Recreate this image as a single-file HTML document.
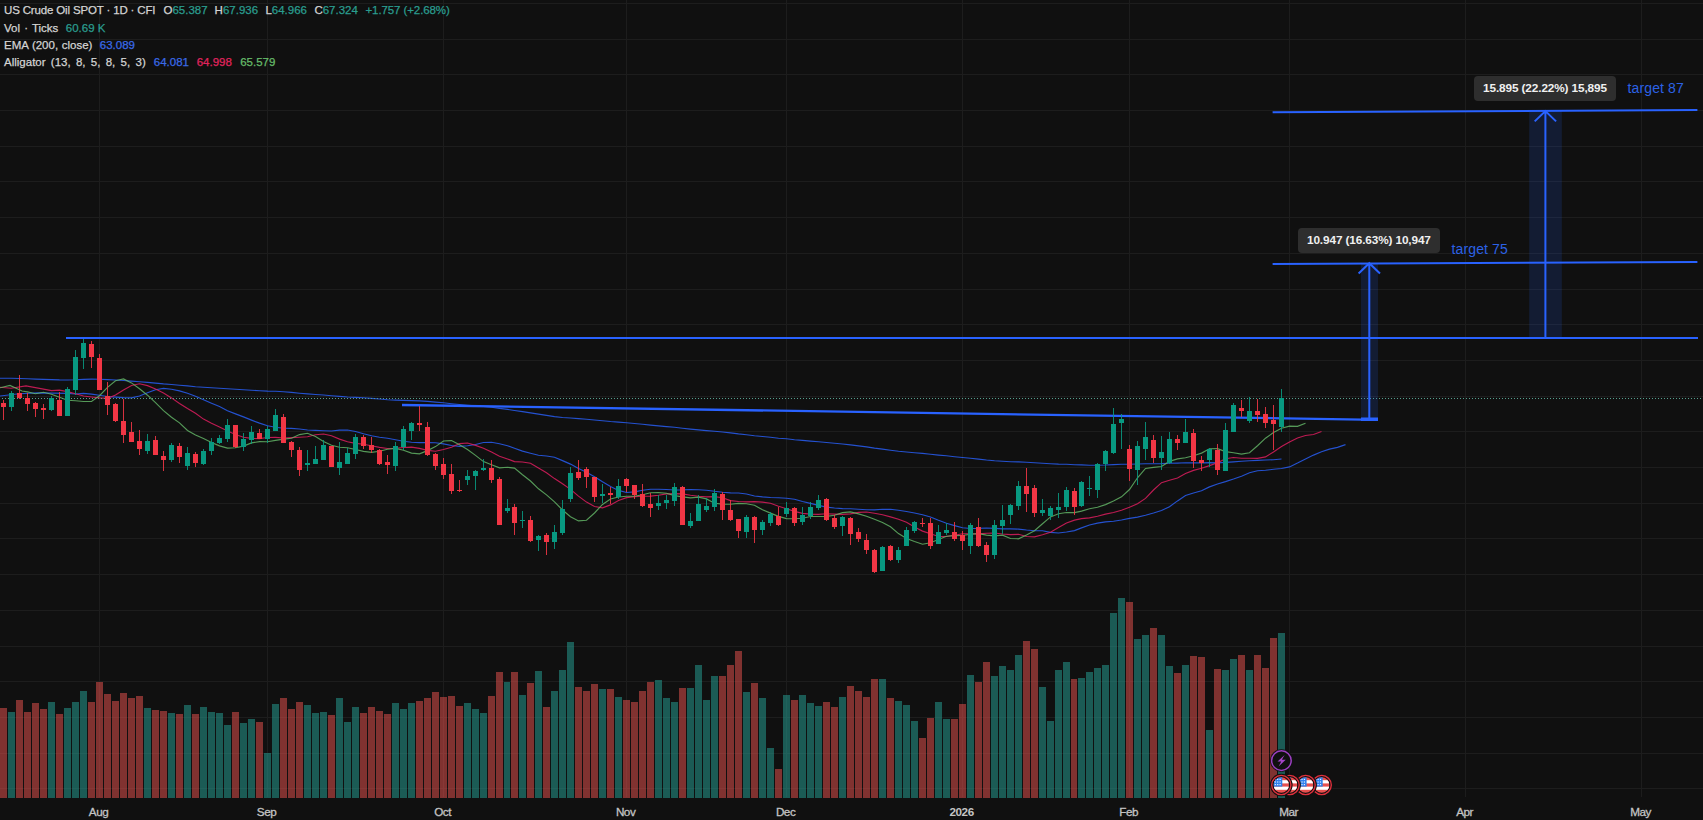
<!DOCTYPE html>
<html><head><meta charset="utf-8"><title>US Crude Oil SPOT</title>
<style>
html,body{margin:0;padding:0;background:#101010;}
body{width:1703px;height:820px;position:relative;overflow:hidden;font-family:"Liberation Sans",sans-serif;}
.lg{position:absolute;left:0;height:16px;line-height:16px;font-size:11.5px;color:#d4d4d4;white-space:nowrap;-webkit-text-stroke:0.25px currentColor}
.t{position:absolute;top:0}
.g{color:#2a9d8f}
b{font-weight:normal}
</style></head><body>
<svg width="1703" height="820" viewBox="0 0 1703 820" style="position:absolute;left:0;top:0">
<rect width="1703" height="820" fill="#101010"/>
<path d="M0 3.5H1703 M0 39.5H1703 M0 74.5H1703 M0 110.5H1703 M0 146.5H1703 M0 181.5H1703 M0 217.5H1703 M0 253.5H1703 M0 289.5H1703 M0 324.5H1703 M0 360.5H1703 M0 396.5H1703 M0 431.5H1703 M0 467.5H1703 M0 503.5H1703 M0 538.5H1703 M0 574.5H1703 M0 610.5H1703 M0 646.5H1703 M0 681.5H1703 M0 717.5H1703 M0 753.5H1703 M0 788.5H1703 M99.5 0V797 M267.5 0V797 M443.5 0V797 M626.5 0V797 M786.5 0V797 M962.5 0V797 M1129.5 0V797 M1289.5 0V797 M1465.5 0V797 M1641.5 0V797" stroke="#1d1d1d" stroke-width="1" fill="none" shape-rendering="crispEdges"/>
<rect x="0" y="708" width="7" height="90" fill="rgba(239,83,80,0.5)" shape-rendering="crispEdges"/>
<rect x="8" y="712" width="7" height="86" fill="rgba(38,166,154,0.5)" shape-rendering="crispEdges"/>
<rect x="16" y="700" width="7" height="98" fill="rgba(239,83,80,0.5)" shape-rendering="crispEdges"/>
<rect x="24" y="712" width="7" height="86" fill="rgba(239,83,80,0.5)" shape-rendering="crispEdges"/>
<rect x="32" y="703" width="7" height="95" fill="rgba(239,83,80,0.5)" shape-rendering="crispEdges"/>
<rect x="40" y="709" width="7" height="89" fill="rgba(239,83,80,0.5)" shape-rendering="crispEdges"/>
<rect x="48" y="702" width="7" height="96" fill="rgba(38,166,154,0.5)" shape-rendering="crispEdges"/>
<rect x="56" y="714" width="7" height="84" fill="rgba(239,83,80,0.5)" shape-rendering="crispEdges"/>
<rect x="64" y="708" width="7" height="90" fill="rgba(38,166,154,0.5)" shape-rendering="crispEdges"/>
<rect x="72" y="702" width="7" height="96" fill="rgba(38,166,154,0.5)" shape-rendering="crispEdges"/>
<rect x="80" y="691" width="7" height="107" fill="rgba(38,166,154,0.5)" shape-rendering="crispEdges"/>
<rect x="88" y="702" width="7" height="96" fill="rgba(239,83,80,0.5)" shape-rendering="crispEdges"/>
<rect x="96" y="682" width="7" height="116" fill="rgba(239,83,80,0.5)" shape-rendering="crispEdges"/>
<rect x="104" y="694" width="7" height="104" fill="rgba(239,83,80,0.5)" shape-rendering="crispEdges"/>
<rect x="112" y="701" width="7" height="97" fill="rgba(239,83,80,0.5)" shape-rendering="crispEdges"/>
<rect x="120" y="693" width="7" height="105" fill="rgba(239,83,80,0.5)" shape-rendering="crispEdges"/>
<rect x="128" y="698" width="7" height="100" fill="rgba(239,83,80,0.5)" shape-rendering="crispEdges"/>
<rect x="136" y="696" width="7" height="102" fill="rgba(239,83,80,0.5)" shape-rendering="crispEdges"/>
<rect x="144" y="708" width="7" height="90" fill="rgba(38,166,154,0.5)" shape-rendering="crispEdges"/>
<rect x="152" y="710" width="7" height="88" fill="rgba(239,83,80,0.5)" shape-rendering="crispEdges"/>
<rect x="160" y="711" width="7" height="87" fill="rgba(239,83,80,0.5)" shape-rendering="crispEdges"/>
<rect x="168" y="713" width="7" height="85" fill="rgba(38,166,154,0.5)" shape-rendering="crispEdges"/>
<rect x="176" y="714" width="7" height="84" fill="rgba(239,83,80,0.5)" shape-rendering="crispEdges"/>
<rect x="184" y="705" width="7" height="93" fill="rgba(38,166,154,0.5)" shape-rendering="crispEdges"/>
<rect x="192" y="714" width="7" height="84" fill="rgba(239,83,80,0.5)" shape-rendering="crispEdges"/>
<rect x="200" y="707" width="7" height="91" fill="rgba(38,166,154,0.5)" shape-rendering="crispEdges"/>
<rect x="208" y="712" width="7" height="86" fill="rgba(38,166,154,0.5)" shape-rendering="crispEdges"/>
<rect x="216" y="713" width="7" height="85" fill="rgba(38,166,154,0.5)" shape-rendering="crispEdges"/>
<rect x="224" y="725" width="7" height="73" fill="rgba(38,166,154,0.5)" shape-rendering="crispEdges"/>
<rect x="232" y="712" width="7" height="86" fill="rgba(239,83,80,0.5)" shape-rendering="crispEdges"/>
<rect x="240" y="723" width="7" height="75" fill="rgba(38,166,154,0.5)" shape-rendering="crispEdges"/>
<rect x="248" y="719" width="7" height="79" fill="rgba(38,166,154,0.5)" shape-rendering="crispEdges"/>
<rect x="256" y="722" width="7" height="76" fill="rgba(239,83,80,0.5)" shape-rendering="crispEdges"/>
<rect x="264" y="753" width="7" height="45" fill="rgba(38,166,154,0.5)" shape-rendering="crispEdges"/>
<rect x="272" y="704" width="7" height="94" fill="rgba(38,166,154,0.5)" shape-rendering="crispEdges"/>
<rect x="280" y="698" width="7" height="100" fill="rgba(239,83,80,0.5)" shape-rendering="crispEdges"/>
<rect x="288" y="709" width="7" height="89" fill="rgba(239,83,80,0.5)" shape-rendering="crispEdges"/>
<rect x="296" y="702" width="7" height="96" fill="rgba(239,83,80,0.5)" shape-rendering="crispEdges"/>
<rect x="304" y="705" width="7" height="93" fill="rgba(38,166,154,0.5)" shape-rendering="crispEdges"/>
<rect x="312" y="713" width="7" height="85" fill="rgba(38,166,154,0.5)" shape-rendering="crispEdges"/>
<rect x="320" y="712" width="7" height="86" fill="rgba(38,166,154,0.5)" shape-rendering="crispEdges"/>
<rect x="328" y="715" width="7" height="83" fill="rgba(239,83,80,0.5)" shape-rendering="crispEdges"/>
<rect x="336" y="698" width="7" height="100" fill="rgba(38,166,154,0.5)" shape-rendering="crispEdges"/>
<rect x="344" y="722" width="7" height="76" fill="rgba(38,166,154,0.5)" shape-rendering="crispEdges"/>
<rect x="352" y="707" width="7" height="91" fill="rgba(38,166,154,0.5)" shape-rendering="crispEdges"/>
<rect x="360" y="713" width="7" height="85" fill="rgba(239,83,80,0.5)" shape-rendering="crispEdges"/>
<rect x="368" y="707" width="7" height="91" fill="rgba(239,83,80,0.5)" shape-rendering="crispEdges"/>
<rect x="376" y="711" width="7" height="87" fill="rgba(239,83,80,0.5)" shape-rendering="crispEdges"/>
<rect x="384" y="714" width="7" height="84" fill="rgba(239,83,80,0.5)" shape-rendering="crispEdges"/>
<rect x="392" y="703" width="7" height="95" fill="rgba(38,166,154,0.5)" shape-rendering="crispEdges"/>
<rect x="400" y="709" width="7" height="89" fill="rgba(38,166,154,0.5)" shape-rendering="crispEdges"/>
<rect x="408" y="703" width="7" height="95" fill="rgba(38,166,154,0.5)" shape-rendering="crispEdges"/>
<rect x="416" y="701" width="7" height="97" fill="rgba(239,83,80,0.5)" shape-rendering="crispEdges"/>
<rect x="424" y="698" width="7" height="100" fill="rgba(239,83,80,0.5)" shape-rendering="crispEdges"/>
<rect x="432" y="692" width="7" height="106" fill="rgba(239,83,80,0.5)" shape-rendering="crispEdges"/>
<rect x="440" y="697" width="7" height="101" fill="rgba(239,83,80,0.5)" shape-rendering="crispEdges"/>
<rect x="448" y="696" width="7" height="102" fill="rgba(239,83,80,0.5)" shape-rendering="crispEdges"/>
<rect x="456" y="706" width="7" height="92" fill="rgba(239,83,80,0.5)" shape-rendering="crispEdges"/>
<rect x="464" y="703" width="7" height="95" fill="rgba(38,166,154,0.5)" shape-rendering="crispEdges"/>
<rect x="472" y="709" width="7" height="89" fill="rgba(38,166,154,0.5)" shape-rendering="crispEdges"/>
<rect x="480" y="713" width="7" height="85" fill="rgba(38,166,154,0.5)" shape-rendering="crispEdges"/>
<rect x="488" y="696" width="7" height="102" fill="rgba(239,83,80,0.5)" shape-rendering="crispEdges"/>
<rect x="496" y="672" width="7" height="126" fill="rgba(239,83,80,0.5)" shape-rendering="crispEdges"/>
<rect x="504" y="682" width="6" height="116" fill="rgba(38,166,154,0.5)" shape-rendering="crispEdges"/>
<rect x="511" y="672" width="7" height="126" fill="rgba(239,83,80,0.5)" shape-rendering="crispEdges"/>
<rect x="519" y="695" width="7" height="103" fill="rgba(38,166,154,0.5)" shape-rendering="crispEdges"/>
<rect x="527" y="683" width="7" height="115" fill="rgba(239,83,80,0.5)" shape-rendering="crispEdges"/>
<rect x="535" y="671" width="7" height="127" fill="rgba(38,166,154,0.5)" shape-rendering="crispEdges"/>
<rect x="543" y="707" width="7" height="91" fill="rgba(239,83,80,0.5)" shape-rendering="crispEdges"/>
<rect x="551" y="691" width="7" height="107" fill="rgba(38,166,154,0.5)" shape-rendering="crispEdges"/>
<rect x="559" y="670" width="7" height="128" fill="rgba(38,166,154,0.5)" shape-rendering="crispEdges"/>
<rect x="567" y="642" width="7" height="156" fill="rgba(38,166,154,0.5)" shape-rendering="crispEdges"/>
<rect x="575" y="687" width="7" height="111" fill="rgba(239,83,80,0.5)" shape-rendering="crispEdges"/>
<rect x="583" y="691" width="7" height="107" fill="rgba(239,83,80,0.5)" shape-rendering="crispEdges"/>
<rect x="591" y="684" width="7" height="114" fill="rgba(239,83,80,0.5)" shape-rendering="crispEdges"/>
<rect x="599" y="689" width="7" height="109" fill="rgba(38,166,154,0.5)" shape-rendering="crispEdges"/>
<rect x="607" y="689" width="7" height="109" fill="rgba(239,83,80,0.5)" shape-rendering="crispEdges"/>
<rect x="615" y="697" width="7" height="101" fill="rgba(38,166,154,0.5)" shape-rendering="crispEdges"/>
<rect x="623" y="700" width="7" height="98" fill="rgba(239,83,80,0.5)" shape-rendering="crispEdges"/>
<rect x="631" y="702" width="7" height="96" fill="rgba(239,83,80,0.5)" shape-rendering="crispEdges"/>
<rect x="639" y="691" width="7" height="107" fill="rgba(239,83,80,0.5)" shape-rendering="crispEdges"/>
<rect x="647" y="682" width="7" height="116" fill="rgba(239,83,80,0.5)" shape-rendering="crispEdges"/>
<rect x="655" y="680" width="7" height="118" fill="rgba(38,166,154,0.5)" shape-rendering="crispEdges"/>
<rect x="663" y="698" width="7" height="100" fill="rgba(38,166,154,0.5)" shape-rendering="crispEdges"/>
<rect x="671" y="702" width="7" height="96" fill="rgba(38,166,154,0.5)" shape-rendering="crispEdges"/>
<rect x="679" y="688" width="7" height="110" fill="rgba(239,83,80,0.5)" shape-rendering="crispEdges"/>
<rect x="687" y="688" width="7" height="110" fill="rgba(38,166,154,0.5)" shape-rendering="crispEdges"/>
<rect x="695" y="665" width="7" height="133" fill="rgba(38,166,154,0.5)" shape-rendering="crispEdges"/>
<rect x="703" y="700" width="7" height="98" fill="rgba(38,166,154,0.5)" shape-rendering="crispEdges"/>
<rect x="711" y="676" width="7" height="122" fill="rgba(38,166,154,0.5)" shape-rendering="crispEdges"/>
<rect x="719" y="676" width="7" height="122" fill="rgba(239,83,80,0.5)" shape-rendering="crispEdges"/>
<rect x="727" y="665" width="7" height="133" fill="rgba(239,83,80,0.5)" shape-rendering="crispEdges"/>
<rect x="735" y="651" width="7" height="147" fill="rgba(239,83,80,0.5)" shape-rendering="crispEdges"/>
<rect x="743" y="692" width="7" height="106" fill="rgba(38,166,154,0.5)" shape-rendering="crispEdges"/>
<rect x="751" y="683" width="7" height="115" fill="rgba(239,83,80,0.5)" shape-rendering="crispEdges"/>
<rect x="759" y="698" width="7" height="100" fill="rgba(38,166,154,0.5)" shape-rendering="crispEdges"/>
<rect x="767" y="748" width="7" height="50" fill="rgba(38,166,154,0.5)" shape-rendering="crispEdges"/>
<rect x="775" y="769" width="7" height="29" fill="rgba(239,83,80,0.5)" shape-rendering="crispEdges"/>
<rect x="783" y="695" width="7" height="103" fill="rgba(38,166,154,0.5)" shape-rendering="crispEdges"/>
<rect x="791" y="700" width="7" height="98" fill="rgba(239,83,80,0.5)" shape-rendering="crispEdges"/>
<rect x="799" y="695" width="7" height="103" fill="rgba(38,166,154,0.5)" shape-rendering="crispEdges"/>
<rect x="807" y="703" width="7" height="95" fill="rgba(38,166,154,0.5)" shape-rendering="crispEdges"/>
<rect x="815" y="706" width="7" height="92" fill="rgba(38,166,154,0.5)" shape-rendering="crispEdges"/>
<rect x="823" y="702" width="7" height="96" fill="rgba(239,83,80,0.5)" shape-rendering="crispEdges"/>
<rect x="831" y="707" width="7" height="91" fill="rgba(239,83,80,0.5)" shape-rendering="crispEdges"/>
<rect x="839" y="697" width="7" height="101" fill="rgba(38,166,154,0.5)" shape-rendering="crispEdges"/>
<rect x="847" y="686" width="7" height="112" fill="rgba(239,83,80,0.5)" shape-rendering="crispEdges"/>
<rect x="855" y="691" width="7" height="107" fill="rgba(239,83,80,0.5)" shape-rendering="crispEdges"/>
<rect x="863" y="697" width="7" height="101" fill="rgba(239,83,80,0.5)" shape-rendering="crispEdges"/>
<rect x="871" y="679" width="7" height="119" fill="rgba(239,83,80,0.5)" shape-rendering="crispEdges"/>
<rect x="879" y="679" width="7" height="119" fill="rgba(38,166,154,0.5)" shape-rendering="crispEdges"/>
<rect x="887" y="698" width="7" height="100" fill="rgba(239,83,80,0.5)" shape-rendering="crispEdges"/>
<rect x="895" y="701" width="7" height="97" fill="rgba(38,166,154,0.5)" shape-rendering="crispEdges"/>
<rect x="903" y="705" width="7" height="93" fill="rgba(38,166,154,0.5)" shape-rendering="crispEdges"/>
<rect x="911" y="721" width="7" height="77" fill="rgba(38,166,154,0.5)" shape-rendering="crispEdges"/>
<rect x="919" y="738" width="7" height="60" fill="rgba(239,83,80,0.5)" shape-rendering="crispEdges"/>
<rect x="927" y="718" width="7" height="80" fill="rgba(239,83,80,0.5)" shape-rendering="crispEdges"/>
<rect x="935" y="702" width="7" height="96" fill="rgba(38,166,154,0.5)" shape-rendering="crispEdges"/>
<rect x="943" y="719" width="7" height="79" fill="rgba(38,166,154,0.5)" shape-rendering="crispEdges"/>
<rect x="951" y="719" width="7" height="79" fill="rgba(239,83,80,0.5)" shape-rendering="crispEdges"/>
<rect x="959" y="704" width="7" height="94" fill="rgba(239,83,80,0.5)" shape-rendering="crispEdges"/>
<rect x="967" y="675" width="7" height="123" fill="rgba(38,166,154,0.5)" shape-rendering="crispEdges"/>
<rect x="975" y="682" width="7" height="116" fill="rgba(239,83,80,0.5)" shape-rendering="crispEdges"/>
<rect x="983" y="662" width="7" height="136" fill="rgba(239,83,80,0.5)" shape-rendering="crispEdges"/>
<rect x="991" y="676" width="7" height="122" fill="rgba(38,166,154,0.5)" shape-rendering="crispEdges"/>
<rect x="999" y="666" width="7" height="132" fill="rgba(38,166,154,0.5)" shape-rendering="crispEdges"/>
<rect x="1007" y="670" width="7" height="128" fill="rgba(38,166,154,0.5)" shape-rendering="crispEdges"/>
<rect x="1015" y="655" width="7" height="143" fill="rgba(38,166,154,0.5)" shape-rendering="crispEdges"/>
<rect x="1023" y="641" width="7" height="157" fill="rgba(239,83,80,0.5)" shape-rendering="crispEdges"/>
<rect x="1031" y="649" width="7" height="149" fill="rgba(239,83,80,0.5)" shape-rendering="crispEdges"/>
<rect x="1039" y="687" width="7" height="111" fill="rgba(38,166,154,0.5)" shape-rendering="crispEdges"/>
<rect x="1047" y="721" width="7" height="77" fill="rgba(38,166,154,0.5)" shape-rendering="crispEdges"/>
<rect x="1055" y="670" width="7" height="128" fill="rgba(38,166,154,0.5)" shape-rendering="crispEdges"/>
<rect x="1063" y="662" width="7" height="136" fill="rgba(38,166,154,0.5)" shape-rendering="crispEdges"/>
<rect x="1071" y="679" width="6" height="119" fill="rgba(239,83,80,0.5)" shape-rendering="crispEdges"/>
<rect x="1078" y="678" width="7" height="120" fill="rgba(38,166,154,0.5)" shape-rendering="crispEdges"/>
<rect x="1086" y="672" width="7" height="126" fill="rgba(38,166,154,0.5)" shape-rendering="crispEdges"/>
<rect x="1094" y="668" width="7" height="130" fill="rgba(38,166,154,0.5)" shape-rendering="crispEdges"/>
<rect x="1102" y="665" width="7" height="133" fill="rgba(38,166,154,0.5)" shape-rendering="crispEdges"/>
<rect x="1110" y="613" width="7" height="185" fill="rgba(38,166,154,0.5)" shape-rendering="crispEdges"/>
<rect x="1118" y="598" width="7" height="200" fill="rgba(38,166,154,0.5)" shape-rendering="crispEdges"/>
<rect x="1126" y="602" width="7" height="196" fill="rgba(239,83,80,0.5)" shape-rendering="crispEdges"/>
<rect x="1134" y="639" width="7" height="159" fill="rgba(38,166,154,0.5)" shape-rendering="crispEdges"/>
<rect x="1142" y="635" width="7" height="163" fill="rgba(38,166,154,0.5)" shape-rendering="crispEdges"/>
<rect x="1150" y="628" width="7" height="170" fill="rgba(239,83,80,0.5)" shape-rendering="crispEdges"/>
<rect x="1158" y="635" width="7" height="163" fill="rgba(38,166,154,0.5)" shape-rendering="crispEdges"/>
<rect x="1166" y="666" width="7" height="132" fill="rgba(38,166,154,0.5)" shape-rendering="crispEdges"/>
<rect x="1174" y="673" width="7" height="125" fill="rgba(239,83,80,0.5)" shape-rendering="crispEdges"/>
<rect x="1182" y="665" width="7" height="133" fill="rgba(38,166,154,0.5)" shape-rendering="crispEdges"/>
<rect x="1190" y="656" width="7" height="142" fill="rgba(239,83,80,0.5)" shape-rendering="crispEdges"/>
<rect x="1198" y="657" width="7" height="141" fill="rgba(239,83,80,0.5)" shape-rendering="crispEdges"/>
<rect x="1206" y="730" width="7" height="68" fill="rgba(38,166,154,0.5)" shape-rendering="crispEdges"/>
<rect x="1214" y="669" width="7" height="129" fill="rgba(239,83,80,0.5)" shape-rendering="crispEdges"/>
<rect x="1222" y="670" width="7" height="128" fill="rgba(38,166,154,0.5)" shape-rendering="crispEdges"/>
<rect x="1230" y="659" width="7" height="139" fill="rgba(38,166,154,0.5)" shape-rendering="crispEdges"/>
<rect x="1238" y="655" width="7" height="143" fill="rgba(239,83,80,0.5)" shape-rendering="crispEdges"/>
<rect x="1246" y="670" width="7" height="128" fill="rgba(38,166,154,0.5)" shape-rendering="crispEdges"/>
<rect x="1254" y="655" width="7" height="143" fill="rgba(239,83,80,0.5)" shape-rendering="crispEdges"/>
<rect x="1262" y="668" width="7" height="130" fill="rgba(239,83,80,0.5)" shape-rendering="crispEdges"/>
<rect x="1270" y="638" width="7" height="160" fill="rgba(239,83,80,0.5)" shape-rendering="crispEdges"/>
<rect x="1278" y="633" width="7" height="165" fill="rgba(38,166,154,0.5)" shape-rendering="crispEdges"/>
<polyline points="0.0,378.2 3.5,378.2 11.5,378.3 19.5,378.5 27.5,378.8 35.5,379.1 43.5,379.4 51.5,379.6 59.5,379.9 67.5,380.0 75.5,379.8 83.5,379.4 91.5,379.2 99.5,379.3 107.5,379.6 115.5,380.0 123.5,380.5 131.5,381.1 139.5,381.8 147.5,382.4 155.5,383.1 163.5,383.9 171.5,384.5 179.5,385.2 187.5,385.9 195.5,386.7 203.5,387.3 211.5,387.8 219.5,388.3 227.5,388.7 235.5,389.3 243.5,389.8 251.5,390.2 259.5,390.7 267.5,391.1 275.5,391.3 283.5,391.8 291.5,392.4 299.5,393.2 307.5,393.9 315.5,394.5 323.5,395.0 331.5,395.7 339.5,396.4 347.5,397.0 355.5,397.4 363.5,397.8 371.5,398.4 379.5,399.0 387.5,399.7 395.5,400.1 403.5,400.4 411.5,400.6 419.5,400.9 427.5,401.4 435.5,402.1 443.5,402.8 451.5,403.7 459.5,404.5 467.5,405.2 475.5,405.9 483.5,406.5 491.5,407.2 499.5,408.4 507.5,409.4 514.5,410.5 522.5,411.6 530.5,412.9 538.5,414.1 546.5,415.4 554.5,416.6 562.5,417.5 570.5,418.0 578.5,418.6 586.5,419.2 594.5,420.0 602.5,420.7 610.5,421.5 618.5,422.1 626.5,422.7 634.5,423.5 642.5,424.3 650.5,425.1 658.5,425.9 666.5,426.6 674.5,427.2 682.5,428.2 690.5,429.1 698.5,429.9 706.5,430.6 714.5,431.3 722.5,432.0 730.5,432.9 738.5,433.9 746.5,434.7 754.5,435.7 762.5,436.5 770.5,437.3 778.5,438.2 786.5,438.8 794.5,439.7 802.5,440.4 810.5,441.1 818.5,441.7 826.5,442.5 834.5,443.3 842.5,444.0 850.5,444.9 858.5,445.9 866.5,446.9 874.5,448.1 882.5,449.1 890.5,450.2 898.5,451.2 906.5,452.0 914.5,452.7 922.5,453.4 930.5,454.3 938.5,455.1 946.5,455.8 954.5,456.7 962.5,457.5 970.5,458.2 978.5,459.1 986.5,460.0 994.5,460.7 1002.5,461.2 1010.5,461.7 1018.5,461.9 1026.5,462.2 1034.5,462.7 1042.5,463.2 1050.5,463.7 1058.5,464.1 1066.5,464.3 1074.5,464.8 1081.5,464.9 1089.5,465.2 1097.5,465.2 1105.5,465.0 1113.5,464.6 1121.5,464.2 1129.5,464.2 1137.5,464.0 1145.5,463.8 1153.5,463.7 1161.5,463.6 1169.5,463.3 1177.5,463.1 1185.5,462.8 1193.5,462.8 1201.5,462.8 1209.5,462.7 1217.5,462.8 1225.5,462.4 1233.5,461.9 1241.5,461.3 1249.5,460.8 1257.5,460.4 1265.5,460.0 1273.5,459.7 1281.5,459.0" fill="none" stroke="#2962ff" stroke-width="1.15" opacity="0.8"/>
<polyline points="0.0,396.0 19.0,393.8 37.6,392.9 67.5,393.4 75.5,394.0 83.5,393.4 91.5,394.1 99.5,395.3 107.5,396.5 115.5,397.1 123.5,397.6 131.5,397.9 139.5,396.0 147.5,392.7 155.5,389.8 163.5,388.4 171.5,389.2 179.5,390.9 187.5,393.3 195.5,396.2 203.5,399.8 211.5,403.2 219.5,406.5 227.5,410.7 235.5,413.9 243.5,416.9 251.5,420.1 259.5,423.1 267.5,425.7 275.5,427.3 283.5,428.2 291.5,428.4 299.5,429.0 307.5,430.0 315.5,430.4 323.5,430.7 331.5,431.0 339.5,430.1 347.5,430.0 355.5,431.5 363.5,433.8 371.5,435.8 379.5,437.3 387.5,438.3 395.5,439.7 403.5,441.2 411.5,442.3 419.5,442.6 427.5,442.6 435.5,442.8 443.5,443.9 451.5,445.5 459.5,446.3 467.5,445.7 475.5,444.5 483.5,442.5 491.5,442.3 499.5,443.7 507.5,445.7 514.5,448.2 522.5,451.1 530.5,453.2 538.5,455.2 546.5,456.0 554.5,457.2 562.5,460.6 570.5,464.1 578.5,468.4 586.5,472.3 594.5,476.7 602.5,481.8 610.5,486.6 618.5,490.4 626.5,492.5 634.5,491.9 642.5,490.2 650.5,489.2 658.5,489.2 666.5,489.5 674.5,490.0 682.5,489.9 690.5,489.5 698.5,489.7 706.5,490.2 714.5,491.3 722.5,492.2 730.5,492.9 738.5,493.0 746.5,494.0 754.5,496.0 762.5,496.9 770.5,497.5 778.5,497.7 786.5,498.3 794.5,499.3 802.5,501.5 810.5,503.4 818.5,505.4 826.5,507.1 834.5,508.0 842.5,508.6 850.5,508.7 858.5,509.3 866.5,509.8 874.5,509.9 882.5,509.3 890.5,509.3 898.5,510.3 906.5,511.5 914.5,513.0 922.5,514.7 930.5,517.0 938.5,520.3 946.5,523.3 954.5,525.6 962.5,527.8 970.5,528.5 978.5,528.4 986.5,528.0 994.5,528.4 1002.5,528.9 1010.5,528.9 1018.5,529.1 1026.5,530.0 1034.5,530.7 1042.5,530.8 1050.5,532.4 1058.5,533.0 1066.5,532.0 1074.5,530.6 1081.5,527.9 1089.5,525.0 1097.5,523.1 1105.5,521.9 1113.5,521.2 1121.5,520.0 1129.5,518.4 1137.5,517.1 1145.5,515.3 1153.5,513.0 1161.5,510.5 1169.5,506.7 1177.5,500.9 1185.5,495.5 1193.5,493.0 1201.5,490.7 1209.5,486.9 1217.5,484.0 1225.5,481.6 1233.5,479.0 1241.5,476.2 1249.5,472.7 1257.5,470.8 1265.5,470.3 1273.5,469.3 1281.5,468.5 1289.5,466.9 1297.5,463.1 1305.5,458.9 1313.5,455.1 1321.5,451.7 1329.5,449.1 1337.5,447.4 1345.5,444.6" fill="none" stroke="#2962ff" stroke-width="1.15" opacity="0.8"/>
<polyline points="0.0,387.2 11.0,388.2 26.0,385.9 43.5,389.1 51.5,390.6 59.5,390.1 67.5,391.6 75.5,393.8 83.5,396.0 91.5,397.0 99.5,397.9 107.5,398.3 115.5,395.1 123.5,389.9 131.5,385.5 139.5,383.8 147.5,385.6 155.5,389.0 163.5,393.0 171.5,397.9 179.5,403.4 187.5,408.5 195.5,413.2 203.5,419.1 211.5,423.3 219.5,427.0 227.5,430.9 235.5,434.5 243.5,437.3 251.5,438.4 259.5,438.6 267.5,437.5 275.5,437.4 283.5,438.0 291.5,437.6 299.5,437.2 307.5,436.8 315.5,434.7 323.5,434.0 331.5,435.8 339.5,439.1 347.5,441.7 355.5,443.4 363.5,444.2 371.5,445.8 379.5,447.4 387.5,448.5 395.5,448.2 403.5,447.5 411.5,447.1 419.5,448.4 427.5,450.4 435.5,451.2 443.5,449.5 451.5,447.2 459.5,443.6 467.5,443.0 475.5,445.4 483.5,448.3 491.5,452.1 499.5,456.3 507.5,459.0 514.5,461.6 522.5,462.0 530.5,463.2 538.5,468.0 546.5,472.7 554.5,478.6 562.5,483.8 570.5,489.4 578.5,496.1 586.5,502.1 594.5,506.5 602.5,507.8 610.5,504.9 618.5,500.5 626.5,497.6 634.5,496.6 642.5,496.2 650.5,496.1 658.5,495.2 666.5,493.9 674.5,493.7 682.5,493.9 690.5,495.3 698.5,496.2 706.5,496.9 714.5,496.6 722.5,497.7 730.5,500.6 738.5,501.5 746.5,501.9 754.5,501.6 762.5,502.1 770.5,503.2 778.5,506.3 786.5,508.8 794.5,511.4 802.5,513.4 810.5,514.1 818.5,514.4 826.5,513.8 834.5,514.1 842.5,514.3 850.5,513.9 858.5,512.4 866.5,512.0 874.5,513.2 882.5,514.8 890.5,516.9 898.5,519.2 906.5,522.3 914.5,527.1 922.5,531.1 930.5,533.8 938.5,536.5 946.5,536.5 954.5,535.3 962.5,533.7 970.5,533.7 978.5,533.8 986.5,533.3 994.5,533.0 1002.5,534.0 1010.5,534.6 1018.5,534.3 1026.5,536.5 1034.5,536.9 1042.5,534.8 1050.5,532.2 1058.5,527.6 1066.5,522.9 1074.5,520.1 1081.5,518.6 1089.5,517.9 1097.5,516.3 1105.5,514.1 1113.5,512.5 1121.5,510.2 1129.5,507.2 1137.5,503.8 1145.5,498.4 1153.5,490.0 1161.5,482.7 1169.5,480.2 1177.5,478.0 1185.5,473.4 1193.5,470.4 1201.5,468.2 1209.5,465.6 1217.5,462.7 1225.5,458.8 1233.5,457.5 1241.5,458.2 1249.5,458.2 1257.5,458.3 1265.5,456.9 1273.5,452.0 1281.5,446.5 1289.5,442.0 1297.5,438.0 1305.5,435.5 1313.5,434.5 1321.5,431.5" fill="none" stroke="#e91e63" stroke-width="1.15" opacity="0.8"/>
<polyline points="0.0,387.8 10.0,385.4 22.0,391.0 27.5,391.9 35.5,393.7 43.5,392.3 51.5,394.2 59.5,397.3 67.5,400.2 75.5,400.8 83.5,401.5 91.5,401.5 99.5,395.7 107.5,387.3 115.5,380.7 123.5,378.9 131.5,382.9 139.5,388.8 147.5,395.2 155.5,402.6 163.5,410.6 171.5,417.3 179.5,422.9 187.5,430.5 195.5,434.9 203.5,438.5 211.5,442.5 219.5,445.9 227.5,448.1 235.5,447.8 243.5,446.1 251.5,442.9 259.5,441.6 267.5,441.7 275.5,440.4 283.5,439.1 291.5,438.2 299.5,434.6 307.5,433.3 315.5,436.5 323.5,441.5 331.5,445.3 339.5,447.3 347.5,447.8 355.5,449.5 363.5,451.4 371.5,452.3 379.5,451.2 387.5,449.3 395.5,448.4 403.5,450.2 411.5,453.1 419.5,453.8 427.5,450.6 435.5,446.6 443.5,441.0 451.5,440.6 459.5,444.8 467.5,449.6 475.5,455.4 483.5,461.6 491.5,464.8 499.5,467.8 507.5,467.3 514.5,468.1 522.5,474.7 530.5,481.0 538.5,488.8 546.5,494.9 554.5,501.8 562.5,510.0 570.5,516.8 578.5,520.9 586.5,520.2 594.5,513.0 602.5,504.4 610.5,499.0 618.5,497.0 626.5,496.3 634.5,496.2 642.5,494.7 650.5,492.8 658.5,492.6 666.5,493.2 674.5,495.6 682.5,496.9 690.5,497.9 698.5,497.2 706.5,498.9 714.5,503.2 722.5,504.1 730.5,504.2 738.5,503.4 746.5,503.8 754.5,505.2 762.5,509.8 770.5,513.1 778.5,516.4 786.5,518.6 794.5,518.7 802.5,518.2 810.5,516.5 818.5,516.5 826.5,516.4 834.5,515.2 842.5,512.6 850.5,511.9 858.5,513.9 866.5,516.3 874.5,519.3 882.5,522.5 890.5,526.8 898.5,533.6 906.5,538.6 914.5,541.5 922.5,544.2 930.5,542.7 938.5,539.5 946.5,536.2 954.5,535.6 962.5,535.5 970.5,534.2 978.5,533.7 986.5,535.1 994.5,535.8 1002.5,535.1 1010.5,538.5 1018.5,538.8 1026.5,534.9 1034.5,530.7 1042.5,523.7 1050.5,516.9 1058.5,513.7 1066.5,512.5 1074.5,512.6 1081.5,511.1 1089.5,508.7 1097.5,507.3 1105.5,504.6 1113.5,500.9 1121.5,496.8 1129.5,489.5 1137.5,477.8 1145.5,468.5 1153.5,467.4 1161.5,466.5 1169.5,461.4 1177.5,458.9 1185.5,457.7 1193.5,455.7 1201.5,453.1 1209.5,448.7 1217.5,448.6 1225.5,451.6 1233.5,452.8 1241.5,454.1 1249.5,452.7 1257.5,445.7 1265.5,438.2 1273.5,432.6 1281.5,428.2 1289.5,426.1 1297.5,426.4 1305.5,423.2" fill="none" stroke="#66bb6a" stroke-width="1.15" opacity="0.8"/>
<line x1="2" x2="1703" y1="398.5" y2="398.5" stroke="#56a08e" stroke-width="1" stroke-dasharray="1 2" shape-rendering="crispEdges"/>
<line x1="402" y1="405.0" x2="1377.8" y2="419.8" stroke="#2962ff" stroke-width="2.3"/>
<rect x="3" y="400" width="1" height="20" fill="#f23645" fill-opacity="0.88" shape-rendering="crispEdges"/>
<rect x="1" y="403" width="5" height="4" fill="#f23645" shape-rendering="crispEdges"/>
<rect x="11" y="391" width="1" height="20" fill="#089981" fill-opacity="0.88" shape-rendering="crispEdges"/>
<rect x="9" y="393" width="5" height="14" fill="#089981" shape-rendering="crispEdges"/>
<rect x="19" y="375" width="1" height="24" fill="#f23645" fill-opacity="0.88" shape-rendering="crispEdges"/>
<rect x="17" y="393" width="5" height="5" fill="#f23645" shape-rendering="crispEdges"/>
<rect x="27" y="393" width="1" height="18" fill="#f23645" fill-opacity="0.88" shape-rendering="crispEdges"/>
<rect x="25" y="398" width="5" height="6" fill="#f23645" shape-rendering="crispEdges"/>
<rect x="35" y="402" width="1" height="15" fill="#f23645" fill-opacity="0.88" shape-rendering="crispEdges"/>
<rect x="33" y="403" width="5" height="6" fill="#f23645" shape-rendering="crispEdges"/>
<rect x="43" y="404" width="1" height="15" fill="#f23645" fill-opacity="0.88" shape-rendering="crispEdges"/>
<rect x="41" y="408" width="5" height="2" fill="#f23645" shape-rendering="crispEdges"/>
<rect x="51" y="396" width="1" height="15" fill="#089981" fill-opacity="0.88" shape-rendering="crispEdges"/>
<rect x="49" y="398" width="5" height="12" fill="#089981" shape-rendering="crispEdges"/>
<rect x="59" y="392" width="1" height="24" fill="#f23645" fill-opacity="0.88" shape-rendering="crispEdges"/>
<rect x="57" y="400" width="5" height="16" fill="#f23645" shape-rendering="crispEdges"/>
<rect x="67" y="387" width="1" height="29" fill="#089981" fill-opacity="0.88" shape-rendering="crispEdges"/>
<rect x="65" y="389" width="5" height="27" fill="#089981" shape-rendering="crispEdges"/>
<rect x="75" y="350" width="1" height="45" fill="#089981" fill-opacity="0.88" shape-rendering="crispEdges"/>
<rect x="73" y="357" width="5" height="33" fill="#089981" shape-rendering="crispEdges"/>
<rect x="83" y="338" width="1" height="31" fill="#089981" fill-opacity="0.88" shape-rendering="crispEdges"/>
<rect x="81" y="343" width="5" height="15" fill="#089981" shape-rendering="crispEdges"/>
<rect x="91" y="341" width="1" height="27" fill="#f23645" fill-opacity="0.88" shape-rendering="crispEdges"/>
<rect x="89" y="344" width="5" height="13" fill="#f23645" shape-rendering="crispEdges"/>
<rect x="99" y="354" width="1" height="36" fill="#f23645" fill-opacity="0.88" shape-rendering="crispEdges"/>
<rect x="97" y="358" width="5" height="32" fill="#f23645" shape-rendering="crispEdges"/>
<rect x="107" y="382" width="1" height="33" fill="#f23645" fill-opacity="0.88" shape-rendering="crispEdges"/>
<rect x="105" y="396" width="5" height="9" fill="#f23645" shape-rendering="crispEdges"/>
<rect x="115" y="403" width="1" height="19" fill="#f23645" fill-opacity="0.88" shape-rendering="crispEdges"/>
<rect x="113" y="404" width="5" height="17" fill="#f23645" shape-rendering="crispEdges"/>
<rect x="123" y="399" width="1" height="44" fill="#f23645" fill-opacity="0.88" shape-rendering="crispEdges"/>
<rect x="121" y="421" width="5" height="14" fill="#f23645" shape-rendering="crispEdges"/>
<rect x="131" y="422" width="1" height="20" fill="#f23645" fill-opacity="0.88" shape-rendering="crispEdges"/>
<rect x="129" y="432" width="5" height="10" fill="#f23645" shape-rendering="crispEdges"/>
<rect x="139" y="430" width="1" height="25" fill="#f23645" fill-opacity="0.88" shape-rendering="crispEdges"/>
<rect x="137" y="441" width="5" height="8" fill="#f23645" shape-rendering="crispEdges"/>
<rect x="147" y="434" width="1" height="20" fill="#089981" fill-opacity="0.88" shape-rendering="crispEdges"/>
<rect x="145" y="441" width="5" height="10" fill="#089981" shape-rendering="crispEdges"/>
<rect x="155" y="436" width="1" height="19" fill="#f23645" fill-opacity="0.88" shape-rendering="crispEdges"/>
<rect x="153" y="440" width="5" height="15" fill="#f23645" shape-rendering="crispEdges"/>
<rect x="163" y="451" width="1" height="20" fill="#f23645" fill-opacity="0.88" shape-rendering="crispEdges"/>
<rect x="161" y="456" width="5" height="4" fill="#f23645" shape-rendering="crispEdges"/>
<rect x="171" y="443" width="1" height="19" fill="#089981" fill-opacity="0.88" shape-rendering="crispEdges"/>
<rect x="169" y="445" width="5" height="15" fill="#089981" shape-rendering="crispEdges"/>
<rect x="179" y="443" width="1" height="20" fill="#f23645" fill-opacity="0.88" shape-rendering="crispEdges"/>
<rect x="177" y="446" width="5" height="11" fill="#f23645" shape-rendering="crispEdges"/>
<rect x="187" y="447" width="1" height="23" fill="#089981" fill-opacity="0.88" shape-rendering="crispEdges"/>
<rect x="185" y="453" width="5" height="13" fill="#089981" shape-rendering="crispEdges"/>
<rect x="195" y="452" width="1" height="15" fill="#f23645" fill-opacity="0.88" shape-rendering="crispEdges"/>
<rect x="193" y="454" width="5" height="9" fill="#f23645" shape-rendering="crispEdges"/>
<rect x="203" y="449" width="1" height="16" fill="#089981" fill-opacity="0.88" shape-rendering="crispEdges"/>
<rect x="201" y="451" width="5" height="13" fill="#089981" shape-rendering="crispEdges"/>
<rect x="211" y="438" width="1" height="17" fill="#089981" fill-opacity="0.88" shape-rendering="crispEdges"/>
<rect x="209" y="442" width="5" height="9" fill="#089981" shape-rendering="crispEdges"/>
<rect x="219" y="435" width="1" height="9" fill="#089981" fill-opacity="0.88" shape-rendering="crispEdges"/>
<rect x="217" y="438" width="5" height="5" fill="#089981" shape-rendering="crispEdges"/>
<rect x="227" y="419" width="1" height="23" fill="#089981" fill-opacity="0.88" shape-rendering="crispEdges"/>
<rect x="225" y="425" width="5" height="14" fill="#089981" shape-rendering="crispEdges"/>
<rect x="235" y="425" width="1" height="23" fill="#f23645" fill-opacity="0.88" shape-rendering="crispEdges"/>
<rect x="233" y="425" width="5" height="22" fill="#f23645" shape-rendering="crispEdges"/>
<rect x="243" y="433" width="1" height="18" fill="#089981" fill-opacity="0.88" shape-rendering="crispEdges"/>
<rect x="241" y="439" width="5" height="8" fill="#089981" shape-rendering="crispEdges"/>
<rect x="251" y="426" width="1" height="18" fill="#089981" fill-opacity="0.88" shape-rendering="crispEdges"/>
<rect x="249" y="432" width="5" height="8" fill="#089981" shape-rendering="crispEdges"/>
<rect x="259" y="429" width="1" height="10" fill="#f23645" fill-opacity="0.88" shape-rendering="crispEdges"/>
<rect x="257" y="433" width="5" height="6" fill="#f23645" shape-rendering="crispEdges"/>
<rect x="267" y="426" width="1" height="17" fill="#089981" fill-opacity="0.88" shape-rendering="crispEdges"/>
<rect x="265" y="429" width="5" height="10" fill="#089981" shape-rendering="crispEdges"/>
<rect x="275" y="409" width="1" height="22" fill="#089981" fill-opacity="0.88" shape-rendering="crispEdges"/>
<rect x="273" y="415" width="5" height="16" fill="#089981" shape-rendering="crispEdges"/>
<rect x="283" y="414" width="1" height="29" fill="#f23645" fill-opacity="0.88" shape-rendering="crispEdges"/>
<rect x="281" y="417" width="5" height="26" fill="#f23645" shape-rendering="crispEdges"/>
<rect x="291" y="441" width="1" height="16" fill="#f23645" fill-opacity="0.88" shape-rendering="crispEdges"/>
<rect x="289" y="442" width="5" height="8" fill="#f23645" shape-rendering="crispEdges"/>
<rect x="299" y="447" width="1" height="29" fill="#f23645" fill-opacity="0.88" shape-rendering="crispEdges"/>
<rect x="297" y="450" width="5" height="20" fill="#f23645" shape-rendering="crispEdges"/>
<rect x="307" y="450" width="1" height="21" fill="#089981" fill-opacity="0.88" shape-rendering="crispEdges"/>
<rect x="305" y="463" width="5" height="2" fill="#089981" shape-rendering="crispEdges"/>
<rect x="315" y="446" width="1" height="18" fill="#089981" fill-opacity="0.88" shape-rendering="crispEdges"/>
<rect x="313" y="459" width="5" height="5" fill="#089981" shape-rendering="crispEdges"/>
<rect x="323" y="440" width="1" height="20" fill="#089981" fill-opacity="0.88" shape-rendering="crispEdges"/>
<rect x="321" y="445" width="5" height="15" fill="#089981" shape-rendering="crispEdges"/>
<rect x="331" y="446" width="1" height="21" fill="#f23645" fill-opacity="0.88" shape-rendering="crispEdges"/>
<rect x="329" y="446" width="5" height="21" fill="#f23645" shape-rendering="crispEdges"/>
<rect x="339" y="442" width="1" height="33" fill="#089981" fill-opacity="0.88" shape-rendering="crispEdges"/>
<rect x="337" y="462" width="5" height="6" fill="#089981" shape-rendering="crispEdges"/>
<rect x="347" y="448" width="1" height="16" fill="#089981" fill-opacity="0.88" shape-rendering="crispEdges"/>
<rect x="345" y="453" width="5" height="11" fill="#089981" shape-rendering="crispEdges"/>
<rect x="355" y="434" width="1" height="25" fill="#089981" fill-opacity="0.88" shape-rendering="crispEdges"/>
<rect x="353" y="437" width="5" height="17" fill="#089981" shape-rendering="crispEdges"/>
<rect x="363" y="435" width="1" height="14" fill="#f23645" fill-opacity="0.88" shape-rendering="crispEdges"/>
<rect x="361" y="437" width="5" height="9" fill="#f23645" shape-rendering="crispEdges"/>
<rect x="371" y="437" width="1" height="16" fill="#f23645" fill-opacity="0.88" shape-rendering="crispEdges"/>
<rect x="369" y="445" width="5" height="5" fill="#f23645" shape-rendering="crispEdges"/>
<rect x="379" y="449" width="1" height="16" fill="#f23645" fill-opacity="0.88" shape-rendering="crispEdges"/>
<rect x="377" y="450" width="5" height="14" fill="#f23645" shape-rendering="crispEdges"/>
<rect x="387" y="455" width="1" height="19" fill="#f23645" fill-opacity="0.88" shape-rendering="crispEdges"/>
<rect x="385" y="462" width="5" height="3" fill="#f23645" shape-rendering="crispEdges"/>
<rect x="395" y="442" width="1" height="29" fill="#089981" fill-opacity="0.88" shape-rendering="crispEdges"/>
<rect x="393" y="446" width="5" height="20" fill="#089981" shape-rendering="crispEdges"/>
<rect x="403" y="426" width="1" height="24" fill="#089981" fill-opacity="0.88" shape-rendering="crispEdges"/>
<rect x="401" y="429" width="5" height="18" fill="#089981" shape-rendering="crispEdges"/>
<rect x="411" y="422" width="1" height="18" fill="#089981" fill-opacity="0.88" shape-rendering="crispEdges"/>
<rect x="409" y="423" width="5" height="8" fill="#089981" shape-rendering="crispEdges"/>
<rect x="419" y="406" width="1" height="25" fill="#f23645" fill-opacity="0.88" shape-rendering="crispEdges"/>
<rect x="417" y="423" width="5" height="2" fill="#f23645" shape-rendering="crispEdges"/>
<rect x="427" y="422" width="1" height="34" fill="#f23645" fill-opacity="0.88" shape-rendering="crispEdges"/>
<rect x="425" y="427" width="5" height="28" fill="#f23645" shape-rendering="crispEdges"/>
<rect x="435" y="453" width="1" height="17" fill="#f23645" fill-opacity="0.88" shape-rendering="crispEdges"/>
<rect x="433" y="454" width="5" height="12" fill="#f23645" shape-rendering="crispEdges"/>
<rect x="443" y="458" width="1" height="21" fill="#f23645" fill-opacity="0.88" shape-rendering="crispEdges"/>
<rect x="441" y="464" width="5" height="11" fill="#f23645" shape-rendering="crispEdges"/>
<rect x="451" y="464" width="1" height="30" fill="#f23645" fill-opacity="0.88" shape-rendering="crispEdges"/>
<rect x="449" y="474" width="5" height="17" fill="#f23645" shape-rendering="crispEdges"/>
<rect x="459" y="480" width="1" height="12" fill="#f23645" fill-opacity="0.88" shape-rendering="crispEdges"/>
<rect x="457" y="490" width="5" height="1" fill="#f23645" shape-rendering="crispEdges"/>
<rect x="467" y="470" width="1" height="15" fill="#089981" fill-opacity="0.88" shape-rendering="crispEdges"/>
<rect x="465" y="476" width="5" height="4" fill="#089981" shape-rendering="crispEdges"/>
<rect x="475" y="470" width="1" height="20" fill="#089981" fill-opacity="0.88" shape-rendering="crispEdges"/>
<rect x="473" y="471" width="5" height="5" fill="#089981" shape-rendering="crispEdges"/>
<rect x="483" y="459" width="1" height="12" fill="#089981" fill-opacity="0.88" shape-rendering="crispEdges"/>
<rect x="481" y="468" width="5" height="2" fill="#089981" shape-rendering="crispEdges"/>
<rect x="491" y="460" width="1" height="23" fill="#f23645" fill-opacity="0.88" shape-rendering="crispEdges"/>
<rect x="489" y="468" width="5" height="12" fill="#f23645" shape-rendering="crispEdges"/>
<rect x="499" y="477" width="1" height="48" fill="#f23645" fill-opacity="0.88" shape-rendering="crispEdges"/>
<rect x="497" y="479" width="5" height="46" fill="#f23645" shape-rendering="crispEdges"/>
<rect x="507" y="499" width="1" height="14" fill="#089981" fill-opacity="0.88" shape-rendering="crispEdges"/>
<rect x="505" y="508" width="5" height="3" fill="#089981" shape-rendering="crispEdges"/>
<rect x="514" y="504" width="1" height="31" fill="#f23645" fill-opacity="0.88" shape-rendering="crispEdges"/>
<rect x="512" y="507" width="5" height="16" fill="#f23645" shape-rendering="crispEdges"/>
<rect x="522" y="511" width="1" height="17" fill="#089981" fill-opacity="0.88" shape-rendering="crispEdges"/>
<rect x="520" y="520" width="5" height="1" fill="#089981" shape-rendering="crispEdges"/>
<rect x="530" y="516" width="1" height="26" fill="#f23645" fill-opacity="0.88" shape-rendering="crispEdges"/>
<rect x="528" y="520" width="5" height="21" fill="#f23645" shape-rendering="crispEdges"/>
<rect x="538" y="535" width="1" height="16" fill="#089981" fill-opacity="0.88" shape-rendering="crispEdges"/>
<rect x="536" y="536" width="5" height="4" fill="#089981" shape-rendering="crispEdges"/>
<rect x="546" y="533" width="1" height="22" fill="#f23645" fill-opacity="0.88" shape-rendering="crispEdges"/>
<rect x="544" y="535" width="5" height="7" fill="#f23645" shape-rendering="crispEdges"/>
<rect x="554" y="525" width="1" height="24" fill="#089981" fill-opacity="0.88" shape-rendering="crispEdges"/>
<rect x="552" y="532" width="5" height="10" fill="#089981" shape-rendering="crispEdges"/>
<rect x="562" y="500" width="1" height="35" fill="#089981" fill-opacity="0.88" shape-rendering="crispEdges"/>
<rect x="560" y="509" width="5" height="24" fill="#089981" shape-rendering="crispEdges"/>
<rect x="570" y="467" width="1" height="35" fill="#089981" fill-opacity="0.88" shape-rendering="crispEdges"/>
<rect x="568" y="473" width="5" height="26" fill="#089981" shape-rendering="crispEdges"/>
<rect x="578" y="460" width="1" height="20" fill="#f23645" fill-opacity="0.88" shape-rendering="crispEdges"/>
<rect x="576" y="472" width="5" height="6" fill="#f23645" shape-rendering="crispEdges"/>
<rect x="586" y="467" width="1" height="21" fill="#f23645" fill-opacity="0.88" shape-rendering="crispEdges"/>
<rect x="584" y="469" width="5" height="8" fill="#f23645" shape-rendering="crispEdges"/>
<rect x="594" y="477" width="1" height="25" fill="#f23645" fill-opacity="0.88" shape-rendering="crispEdges"/>
<rect x="592" y="477" width="5" height="20" fill="#f23645" shape-rendering="crispEdges"/>
<rect x="602" y="484" width="1" height="19" fill="#089981" fill-opacity="0.88" shape-rendering="crispEdges"/>
<rect x="600" y="494" width="5" height="2" fill="#089981" shape-rendering="crispEdges"/>
<rect x="610" y="487" width="1" height="17" fill="#f23645" fill-opacity="0.88" shape-rendering="crispEdges"/>
<rect x="608" y="493" width="5" height="2" fill="#f23645" shape-rendering="crispEdges"/>
<rect x="618" y="479" width="1" height="20" fill="#089981" fill-opacity="0.88" shape-rendering="crispEdges"/>
<rect x="616" y="486" width="5" height="11" fill="#089981" shape-rendering="crispEdges"/>
<rect x="626" y="478" width="1" height="14" fill="#f23645" fill-opacity="0.88" shape-rendering="crispEdges"/>
<rect x="624" y="479" width="5" height="7" fill="#f23645" shape-rendering="crispEdges"/>
<rect x="634" y="485" width="1" height="14" fill="#f23645" fill-opacity="0.88" shape-rendering="crispEdges"/>
<rect x="632" y="485" width="5" height="10" fill="#f23645" shape-rendering="crispEdges"/>
<rect x="642" y="484" width="1" height="23" fill="#f23645" fill-opacity="0.88" shape-rendering="crispEdges"/>
<rect x="640" y="494" width="5" height="12" fill="#f23645" shape-rendering="crispEdges"/>
<rect x="650" y="493" width="1" height="24" fill="#f23645" fill-opacity="0.88" shape-rendering="crispEdges"/>
<rect x="648" y="504" width="5" height="4" fill="#f23645" shape-rendering="crispEdges"/>
<rect x="658" y="495" width="1" height="15" fill="#089981" fill-opacity="0.88" shape-rendering="crispEdges"/>
<rect x="656" y="503" width="5" height="3" fill="#089981" shape-rendering="crispEdges"/>
<rect x="666" y="495" width="1" height="14" fill="#089981" fill-opacity="0.88" shape-rendering="crispEdges"/>
<rect x="664" y="500" width="5" height="3" fill="#089981" shape-rendering="crispEdges"/>
<rect x="674" y="483" width="1" height="23" fill="#089981" fill-opacity="0.88" shape-rendering="crispEdges"/>
<rect x="672" y="487" width="5" height="14" fill="#089981" shape-rendering="crispEdges"/>
<rect x="682" y="486" width="1" height="39" fill="#f23645" fill-opacity="0.88" shape-rendering="crispEdges"/>
<rect x="680" y="487" width="5" height="38" fill="#f23645" shape-rendering="crispEdges"/>
<rect x="690" y="513" width="1" height="15" fill="#089981" fill-opacity="0.88" shape-rendering="crispEdges"/>
<rect x="688" y="521" width="5" height="5" fill="#089981" shape-rendering="crispEdges"/>
<rect x="698" y="495" width="1" height="26" fill="#089981" fill-opacity="0.88" shape-rendering="crispEdges"/>
<rect x="696" y="504" width="5" height="17" fill="#089981" shape-rendering="crispEdges"/>
<rect x="706" y="498" width="1" height="14" fill="#089981" fill-opacity="0.88" shape-rendering="crispEdges"/>
<rect x="704" y="506" width="5" height="4" fill="#089981" shape-rendering="crispEdges"/>
<rect x="714" y="489" width="1" height="22" fill="#089981" fill-opacity="0.88" shape-rendering="crispEdges"/>
<rect x="712" y="493" width="5" height="14" fill="#089981" shape-rendering="crispEdges"/>
<rect x="722" y="492" width="1" height="28" fill="#f23645" fill-opacity="0.88" shape-rendering="crispEdges"/>
<rect x="720" y="494" width="5" height="16" fill="#f23645" shape-rendering="crispEdges"/>
<rect x="730" y="500" width="1" height="21" fill="#f23645" fill-opacity="0.88" shape-rendering="crispEdges"/>
<rect x="728" y="510" width="5" height="10" fill="#f23645" shape-rendering="crispEdges"/>
<rect x="738" y="519" width="1" height="19" fill="#f23645" fill-opacity="0.88" shape-rendering="crispEdges"/>
<rect x="736" y="519" width="5" height="12" fill="#f23645" shape-rendering="crispEdges"/>
<rect x="746" y="515" width="1" height="23" fill="#089981" fill-opacity="0.88" shape-rendering="crispEdges"/>
<rect x="744" y="517" width="5" height="15" fill="#089981" shape-rendering="crispEdges"/>
<rect x="754" y="516" width="1" height="27" fill="#f23645" fill-opacity="0.88" shape-rendering="crispEdges"/>
<rect x="752" y="517" width="5" height="13" fill="#f23645" shape-rendering="crispEdges"/>
<rect x="762" y="520" width="1" height="15" fill="#089981" fill-opacity="0.88" shape-rendering="crispEdges"/>
<rect x="760" y="522" width="5" height="8" fill="#089981" shape-rendering="crispEdges"/>
<rect x="770" y="512" width="1" height="14" fill="#089981" fill-opacity="0.88" shape-rendering="crispEdges"/>
<rect x="768" y="514" width="5" height="9" fill="#089981" shape-rendering="crispEdges"/>
<rect x="778" y="507" width="1" height="19" fill="#f23645" fill-opacity="0.88" shape-rendering="crispEdges"/>
<rect x="776" y="516" width="5" height="9" fill="#f23645" shape-rendering="crispEdges"/>
<rect x="786" y="502" width="1" height="15" fill="#089981" fill-opacity="0.88" shape-rendering="crispEdges"/>
<rect x="784" y="508" width="5" height="6" fill="#089981" shape-rendering="crispEdges"/>
<rect x="794" y="507" width="1" height="19" fill="#f23645" fill-opacity="0.88" shape-rendering="crispEdges"/>
<rect x="792" y="508" width="5" height="15" fill="#f23645" shape-rendering="crispEdges"/>
<rect x="802" y="507" width="1" height="18" fill="#089981" fill-opacity="0.88" shape-rendering="crispEdges"/>
<rect x="800" y="515" width="5" height="7" fill="#089981" shape-rendering="crispEdges"/>
<rect x="810" y="502" width="1" height="17" fill="#089981" fill-opacity="0.88" shape-rendering="crispEdges"/>
<rect x="808" y="507" width="5" height="9" fill="#089981" shape-rendering="crispEdges"/>
<rect x="818" y="495" width="1" height="15" fill="#089981" fill-opacity="0.88" shape-rendering="crispEdges"/>
<rect x="816" y="500" width="5" height="8" fill="#089981" shape-rendering="crispEdges"/>
<rect x="826" y="498" width="1" height="23" fill="#f23645" fill-opacity="0.88" shape-rendering="crispEdges"/>
<rect x="824" y="499" width="5" height="21" fill="#f23645" shape-rendering="crispEdges"/>
<rect x="834" y="515" width="1" height="14" fill="#f23645" fill-opacity="0.88" shape-rendering="crispEdges"/>
<rect x="832" y="518" width="5" height="9" fill="#f23645" shape-rendering="crispEdges"/>
<rect x="842" y="516" width="1" height="20" fill="#089981" fill-opacity="0.88" shape-rendering="crispEdges"/>
<rect x="840" y="517" width="5" height="9" fill="#089981" shape-rendering="crispEdges"/>
<rect x="850" y="517" width="1" height="28" fill="#f23645" fill-opacity="0.88" shape-rendering="crispEdges"/>
<rect x="848" y="518" width="5" height="16" fill="#f23645" shape-rendering="crispEdges"/>
<rect x="858" y="528" width="1" height="14" fill="#f23645" fill-opacity="0.88" shape-rendering="crispEdges"/>
<rect x="856" y="532" width="5" height="7" fill="#f23645" shape-rendering="crispEdges"/>
<rect x="866" y="534" width="1" height="20" fill="#f23645" fill-opacity="0.88" shape-rendering="crispEdges"/>
<rect x="864" y="540" width="5" height="10" fill="#f23645" shape-rendering="crispEdges"/>
<rect x="874" y="549" width="1" height="24" fill="#f23645" fill-opacity="0.88" shape-rendering="crispEdges"/>
<rect x="872" y="550" width="5" height="22" fill="#f23645" shape-rendering="crispEdges"/>
<rect x="882" y="546" width="1" height="25" fill="#089981" fill-opacity="0.88" shape-rendering="crispEdges"/>
<rect x="880" y="547" width="5" height="24" fill="#089981" shape-rendering="crispEdges"/>
<rect x="890" y="545" width="1" height="16" fill="#f23645" fill-opacity="0.88" shape-rendering="crispEdges"/>
<rect x="888" y="546" width="5" height="14" fill="#f23645" shape-rendering="crispEdges"/>
<rect x="898" y="547" width="1" height="16" fill="#089981" fill-opacity="0.88" shape-rendering="crispEdges"/>
<rect x="896" y="550" width="5" height="10" fill="#089981" shape-rendering="crispEdges"/>
<rect x="906" y="527" width="1" height="19" fill="#089981" fill-opacity="0.88" shape-rendering="crispEdges"/>
<rect x="904" y="530" width="5" height="16" fill="#089981" shape-rendering="crispEdges"/>
<rect x="914" y="521" width="1" height="12" fill="#089981" fill-opacity="0.88" shape-rendering="crispEdges"/>
<rect x="912" y="522" width="5" height="9" fill="#089981" shape-rendering="crispEdges"/>
<rect x="922" y="518" width="1" height="9" fill="#f23645" fill-opacity="0.88" shape-rendering="crispEdges"/>
<rect x="920" y="523" width="5" height="1" fill="#f23645" shape-rendering="crispEdges"/>
<rect x="930" y="518" width="1" height="31" fill="#f23645" fill-opacity="0.88" shape-rendering="crispEdges"/>
<rect x="928" y="523" width="5" height="23" fill="#f23645" shape-rendering="crispEdges"/>
<rect x="938" y="525" width="1" height="19" fill="#089981" fill-opacity="0.88" shape-rendering="crispEdges"/>
<rect x="936" y="532" width="5" height="12" fill="#089981" shape-rendering="crispEdges"/>
<rect x="946" y="523" width="1" height="12" fill="#089981" fill-opacity="0.88" shape-rendering="crispEdges"/>
<rect x="944" y="530" width="5" height="3" fill="#089981" shape-rendering="crispEdges"/>
<rect x="954" y="522" width="1" height="19" fill="#f23645" fill-opacity="0.88" shape-rendering="crispEdges"/>
<rect x="952" y="532" width="5" height="7" fill="#f23645" shape-rendering="crispEdges"/>
<rect x="962" y="531" width="1" height="19" fill="#f23645" fill-opacity="0.88" shape-rendering="crispEdges"/>
<rect x="960" y="535" width="5" height="6" fill="#f23645" shape-rendering="crispEdges"/>
<rect x="970" y="523" width="1" height="31" fill="#089981" fill-opacity="0.88" shape-rendering="crispEdges"/>
<rect x="968" y="525" width="5" height="21" fill="#089981" shape-rendering="crispEdges"/>
<rect x="978" y="518" width="1" height="29" fill="#f23645" fill-opacity="0.88" shape-rendering="crispEdges"/>
<rect x="976" y="527" width="5" height="19" fill="#f23645" shape-rendering="crispEdges"/>
<rect x="986" y="542" width="1" height="20" fill="#f23645" fill-opacity="0.88" shape-rendering="crispEdges"/>
<rect x="984" y="545" width="5" height="10" fill="#f23645" shape-rendering="crispEdges"/>
<rect x="994" y="520" width="1" height="39" fill="#089981" fill-opacity="0.88" shape-rendering="crispEdges"/>
<rect x="992" y="525" width="5" height="30" fill="#089981" shape-rendering="crispEdges"/>
<rect x="1002" y="505" width="1" height="29" fill="#089981" fill-opacity="0.88" shape-rendering="crispEdges"/>
<rect x="1000" y="520" width="5" height="6" fill="#089981" shape-rendering="crispEdges"/>
<rect x="1010" y="504" width="1" height="20" fill="#089981" fill-opacity="0.88" shape-rendering="crispEdges"/>
<rect x="1008" y="505" width="5" height="10" fill="#089981" shape-rendering="crispEdges"/>
<rect x="1018" y="481" width="1" height="29" fill="#089981" fill-opacity="0.88" shape-rendering="crispEdges"/>
<rect x="1016" y="486" width="5" height="20" fill="#089981" shape-rendering="crispEdges"/>
<rect x="1026" y="468" width="1" height="44" fill="#f23645" fill-opacity="0.88" shape-rendering="crispEdges"/>
<rect x="1024" y="486" width="5" height="8" fill="#f23645" shape-rendering="crispEdges"/>
<rect x="1034" y="485" width="1" height="32" fill="#f23645" fill-opacity="0.88" shape-rendering="crispEdges"/>
<rect x="1032" y="488" width="5" height="25" fill="#f23645" shape-rendering="crispEdges"/>
<rect x="1042" y="499" width="1" height="17" fill="#089981" fill-opacity="0.88" shape-rendering="crispEdges"/>
<rect x="1040" y="510" width="5" height="3" fill="#089981" shape-rendering="crispEdges"/>
<rect x="1050" y="506" width="1" height="14" fill="#089981" fill-opacity="0.88" shape-rendering="crispEdges"/>
<rect x="1048" y="508" width="5" height="8" fill="#089981" shape-rendering="crispEdges"/>
<rect x="1058" y="493" width="1" height="25" fill="#089981" fill-opacity="0.88" shape-rendering="crispEdges"/>
<rect x="1056" y="507" width="5" height="3" fill="#089981" shape-rendering="crispEdges"/>
<rect x="1066" y="487" width="1" height="24" fill="#089981" fill-opacity="0.88" shape-rendering="crispEdges"/>
<rect x="1064" y="490" width="5" height="17" fill="#089981" shape-rendering="crispEdges"/>
<rect x="1074" y="488" width="1" height="27" fill="#f23645" fill-opacity="0.88" shape-rendering="crispEdges"/>
<rect x="1072" y="491" width="5" height="16" fill="#f23645" shape-rendering="crispEdges"/>
<rect x="1081" y="481" width="1" height="26" fill="#089981" fill-opacity="0.88" shape-rendering="crispEdges"/>
<rect x="1079" y="482" width="5" height="24" fill="#089981" shape-rendering="crispEdges"/>
<rect x="1089" y="476" width="1" height="20" fill="#089981" fill-opacity="0.88" shape-rendering="crispEdges"/>
<rect x="1087" y="488" width="5" height="1" fill="#089981" shape-rendering="crispEdges"/>
<rect x="1097" y="463" width="1" height="35" fill="#089981" fill-opacity="0.88" shape-rendering="crispEdges"/>
<rect x="1095" y="464" width="5" height="26" fill="#089981" shape-rendering="crispEdges"/>
<rect x="1105" y="450" width="1" height="21" fill="#089981" fill-opacity="0.88" shape-rendering="crispEdges"/>
<rect x="1103" y="451" width="5" height="13" fill="#089981" shape-rendering="crispEdges"/>
<rect x="1113" y="408" width="1" height="46" fill="#089981" fill-opacity="0.88" shape-rendering="crispEdges"/>
<rect x="1111" y="424" width="5" height="29" fill="#089981" shape-rendering="crispEdges"/>
<rect x="1121" y="414" width="1" height="35" fill="#089981" fill-opacity="0.88" shape-rendering="crispEdges"/>
<rect x="1119" y="419" width="5" height="4" fill="#089981" shape-rendering="crispEdges"/>
<rect x="1129" y="445" width="1" height="36" fill="#f23645" fill-opacity="0.88" shape-rendering="crispEdges"/>
<rect x="1127" y="449" width="5" height="20" fill="#f23645" shape-rendering="crispEdges"/>
<rect x="1137" y="441" width="1" height="44" fill="#089981" fill-opacity="0.88" shape-rendering="crispEdges"/>
<rect x="1135" y="446" width="5" height="24" fill="#089981" shape-rendering="crispEdges"/>
<rect x="1145" y="422" width="1" height="38" fill="#089981" fill-opacity="0.88" shape-rendering="crispEdges"/>
<rect x="1143" y="437" width="5" height="12" fill="#089981" shape-rendering="crispEdges"/>
<rect x="1153" y="435" width="1" height="28" fill="#f23645" fill-opacity="0.88" shape-rendering="crispEdges"/>
<rect x="1151" y="440" width="5" height="18" fill="#f23645" shape-rendering="crispEdges"/>
<rect x="1161" y="436" width="1" height="34" fill="#089981" fill-opacity="0.88" shape-rendering="crispEdges"/>
<rect x="1159" y="452" width="5" height="6" fill="#089981" shape-rendering="crispEdges"/>
<rect x="1169" y="432" width="1" height="32" fill="#089981" fill-opacity="0.88" shape-rendering="crispEdges"/>
<rect x="1167" y="439" width="5" height="24" fill="#089981" shape-rendering="crispEdges"/>
<rect x="1177" y="435" width="1" height="15" fill="#f23645" fill-opacity="0.88" shape-rendering="crispEdges"/>
<rect x="1175" y="439" width="5" height="4" fill="#f23645" shape-rendering="crispEdges"/>
<rect x="1185" y="419" width="1" height="24" fill="#089981" fill-opacity="0.88" shape-rendering="crispEdges"/>
<rect x="1183" y="432" width="5" height="11" fill="#089981" shape-rendering="crispEdges"/>
<rect x="1193" y="429" width="1" height="39" fill="#f23645" fill-opacity="0.88" shape-rendering="crispEdges"/>
<rect x="1191" y="433" width="5" height="28" fill="#f23645" shape-rendering="crispEdges"/>
<rect x="1201" y="456" width="1" height="15" fill="#f23645" fill-opacity="0.88" shape-rendering="crispEdges"/>
<rect x="1199" y="460" width="5" height="3" fill="#f23645" shape-rendering="crispEdges"/>
<rect x="1209" y="448" width="1" height="19" fill="#089981" fill-opacity="0.88" shape-rendering="crispEdges"/>
<rect x="1207" y="449" width="5" height="11" fill="#089981" shape-rendering="crispEdges"/>
<rect x="1217" y="444" width="1" height="31" fill="#f23645" fill-opacity="0.88" shape-rendering="crispEdges"/>
<rect x="1215" y="450" width="5" height="20" fill="#f23645" shape-rendering="crispEdges"/>
<rect x="1225" y="423" width="1" height="48" fill="#089981" fill-opacity="0.88" shape-rendering="crispEdges"/>
<rect x="1223" y="430" width="5" height="41" fill="#089981" shape-rendering="crispEdges"/>
<rect x="1233" y="403" width="1" height="29" fill="#089981" fill-opacity="0.88" shape-rendering="crispEdges"/>
<rect x="1231" y="405" width="5" height="27" fill="#089981" shape-rendering="crispEdges"/>
<rect x="1241" y="400" width="1" height="17" fill="#f23645" fill-opacity="0.88" shape-rendering="crispEdges"/>
<rect x="1239" y="408" width="5" height="3" fill="#f23645" shape-rendering="crispEdges"/>
<rect x="1249" y="397" width="1" height="26" fill="#089981" fill-opacity="0.88" shape-rendering="crispEdges"/>
<rect x="1247" y="411" width="5" height="10" fill="#089981" shape-rendering="crispEdges"/>
<rect x="1257" y="399" width="1" height="23" fill="#f23645" fill-opacity="0.88" shape-rendering="crispEdges"/>
<rect x="1255" y="411" width="5" height="4" fill="#f23645" shape-rendering="crispEdges"/>
<rect x="1265" y="407" width="1" height="21" fill="#f23645" fill-opacity="0.88" shape-rendering="crispEdges"/>
<rect x="1263" y="414" width="5" height="9" fill="#f23645" shape-rendering="crispEdges"/>
<rect x="1273" y="405" width="1" height="45" fill="#f23645" fill-opacity="0.88" shape-rendering="crispEdges"/>
<rect x="1271" y="420" width="5" height="4" fill="#f23645" shape-rendering="crispEdges"/>
<rect x="1281" y="389" width="1" height="43" fill="#089981" fill-opacity="0.88" shape-rendering="crispEdges"/>
<rect x="1279" y="398" width="5" height="29" fill="#089981" shape-rendering="crispEdges"/>
<line x1="66" y1="337.9" x2="1698" y2="337.9" stroke="#2962ff" stroke-width="2"/>
<line x1="1272.6" y1="263.9" x2="1697.4" y2="262.0" stroke="#2962ff" stroke-width="2"/>
<line x1="1272.6" y1="112.2" x2="1697.4" y2="110.0" stroke="#2962ff" stroke-width="2"/>
<rect x="1361" y="263" width="17" height="157" fill="#2962ff" opacity="0.15"/>
<path d="M1369.3 419.5V263.5M1358.6 273.5L1369.3 263.2L1380 273.5" fill="none" stroke="#2962ff" stroke-width="2"/>
<rect x="1361" y="417.5" width="17" height="3.5" fill="#2962ff"/>
<rect x="1529.2" y="110.5" width="32.6" height="227.5" fill="#2962ff" opacity="0.15"/>
<path d="M1545.4 338V111.4M1534.7 121.4L1545.4 111.1L1556.1 121.4" fill="none" stroke="#2962ff" stroke-width="2"/>
<rect x="1474" y="76" width="142" height="25" rx="4" fill="#2e2e2e"/>
<text x="1483.1" y="91.7" textLength="123.9" lengthAdjust="spacing" font-family="Liberation Sans, sans-serif" font-size="11.8" font-weight="bold" fill="#f0f0f0">15.895 (22.22%) 15,895</text>
<rect x="1298" y="228" width="142" height="25" rx="4" fill="#2e2e2e"/>
<text x="1307" y="243.7" textLength="123.9" lengthAdjust="spacing" font-family="Liberation Sans, sans-serif" font-size="11.8" font-weight="bold" fill="#f0f0f0">10.947 (16.63%) 10,947</text>
<text x="1627.5" y="93.4" textLength="56.3" lengthAdjust="spacing" font-family="Liberation Sans, sans-serif" font-size="14" fill="#2c62e6">target 87</text>
<text x="1451.5" y="253.7" textLength="56.3" lengthAdjust="spacing" font-family="Liberation Sans, sans-serif" font-size="14" fill="#2c62e6">target 75</text>
<text x="98.6" y="815.8" text-anchor="middle" font-family="Liberation Sans, sans-serif" font-size="11.7" letter-spacing="-0.45" stroke="#c4c4c4" stroke-width="0.3" fill="#c4c4c4">Aug</text>
<text x="266.6" y="815.8" text-anchor="middle" font-family="Liberation Sans, sans-serif" font-size="11.7" letter-spacing="-0.45" stroke="#c4c4c4" stroke-width="0.3" fill="#c4c4c4">Sep</text>
<text x="442.6" y="815.8" text-anchor="middle" font-family="Liberation Sans, sans-serif" font-size="11.7" letter-spacing="-0.45" stroke="#c4c4c4" stroke-width="0.3" fill="#c4c4c4">Oct</text>
<text x="625.6" y="815.8" text-anchor="middle" font-family="Liberation Sans, sans-serif" font-size="11.7" letter-spacing="-0.45" stroke="#c4c4c4" stroke-width="0.3" fill="#c4c4c4">Nov</text>
<text x="785.6" y="815.8" text-anchor="middle" font-family="Liberation Sans, sans-serif" font-size="11.7" letter-spacing="-0.45" stroke="#c4c4c4" stroke-width="0.3" fill="#c4c4c4">Dec</text>
<text x="961.6" y="815.8" text-anchor="middle" font-family="Liberation Sans, sans-serif" font-size="11.7" letter-spacing="-0.45" font-weight="bold" fill="#c4c4c4">2026</text>
<text x="1128.6" y="815.8" text-anchor="middle" font-family="Liberation Sans, sans-serif" font-size="11.7" letter-spacing="-0.45" stroke="#c4c4c4" stroke-width="0.3" fill="#c4c4c4">Feb</text>
<text x="1288.6" y="815.8" text-anchor="middle" font-family="Liberation Sans, sans-serif" font-size="11.7" letter-spacing="-0.45" stroke="#c4c4c4" stroke-width="0.3" fill="#c4c4c4">Mar</text>
<text x="1464.6" y="815.8" text-anchor="middle" font-family="Liberation Sans, sans-serif" font-size="11.7" letter-spacing="-0.45" stroke="#c4c4c4" stroke-width="0.3" fill="#c4c4c4">Apr</text>
<text x="1640.6" y="815.8" text-anchor="middle" font-family="Liberation Sans, sans-serif" font-size="11.7" letter-spacing="-0.45" stroke="#c4c4c4" stroke-width="0.3" fill="#c4c4c4">May</text>
<circle cx="1321.7" cy="785" r="11.3" fill="#101010"/><circle cx="1321.7" cy="785" r="9.6" fill="#101010" stroke="#e0303c" stroke-width="1.4"/><clipPath id="f4"><circle cx="1321.7" cy="785" r="7.7"/></clipPath><g clip-path="url(#f4)"><rect x="1313.7" y="777" width="16" height="16" fill="#e8504f"/><rect x="1313.7" y="780.2" width="16" height="3.2" fill="#fff"/><rect x="1313.7" y="786.6" width="16" height="3.2" fill="#fff"/><rect x="1313.7" y="777" width="9" height="9.6" fill="#2f80ed"/><rect x="1315.1000000000001" y="778.8" width="1.2" height="1.2" fill="#dfeaff"/><rect x="1317.5000000000002" y="778.8" width="1.2" height="1.2" fill="#dfeaff"/><rect x="1319.9" y="778.8" width="1.2" height="1.2" fill="#dfeaff"/><rect x="1315.1000000000001" y="781.4" width="1.2" height="1.2" fill="#dfeaff"/><rect x="1317.5000000000002" y="781.4" width="1.2" height="1.2" fill="#dfeaff"/><rect x="1319.9" y="781.4" width="1.2" height="1.2" fill="#dfeaff"/><rect x="1315.1000000000001" y="784.0" width="1.2" height="1.2" fill="#dfeaff"/><rect x="1317.5000000000002" y="784.0" width="1.2" height="1.2" fill="#dfeaff"/><rect x="1319.9" y="784.0" width="1.2" height="1.2" fill="#dfeaff"/></g>
<circle cx="1305.6" cy="785" r="11.3" fill="#101010"/><circle cx="1305.6" cy="785" r="9.6" fill="#101010" stroke="#e0303c" stroke-width="1.4"/><clipPath id="f3"><circle cx="1305.6" cy="785" r="7.7"/></clipPath><g clip-path="url(#f3)"><rect x="1297.6" y="777" width="16" height="16" fill="#e8504f"/><rect x="1297.6" y="780.2" width="16" height="3.2" fill="#fff"/><rect x="1297.6" y="786.6" width="16" height="3.2" fill="#fff"/><rect x="1297.6" y="777" width="9" height="9.6" fill="#2f80ed"/><rect x="1299.0" y="778.8" width="1.2" height="1.2" fill="#dfeaff"/><rect x="1301.4" y="778.8" width="1.2" height="1.2" fill="#dfeaff"/><rect x="1303.8" y="778.8" width="1.2" height="1.2" fill="#dfeaff"/><rect x="1299.0" y="781.4" width="1.2" height="1.2" fill="#dfeaff"/><rect x="1301.4" y="781.4" width="1.2" height="1.2" fill="#dfeaff"/><rect x="1303.8" y="781.4" width="1.2" height="1.2" fill="#dfeaff"/><rect x="1299.0" y="784.0" width="1.2" height="1.2" fill="#dfeaff"/><rect x="1301.4" y="784.0" width="1.2" height="1.2" fill="#dfeaff"/><rect x="1303.8" y="784.0" width="1.2" height="1.2" fill="#dfeaff"/></g>
<circle cx="1289.6" cy="785" r="11.3" fill="#101010"/><circle cx="1289.6" cy="785" r="9.6" fill="#101010" stroke="#e0303c" stroke-width="1.4"/><clipPath id="f2"><circle cx="1289.6" cy="785" r="7.7"/></clipPath><g clip-path="url(#f2)"><rect x="1281.6" y="777" width="16" height="16" fill="#e8504f"/><rect x="1281.6" y="780.2" width="16" height="3.2" fill="#fff"/><rect x="1281.6" y="786.6" width="16" height="3.2" fill="#fff"/><rect x="1281.6" y="777" width="9" height="9.6" fill="#2f80ed"/><rect x="1283.0" y="778.8" width="1.2" height="1.2" fill="#dfeaff"/><rect x="1285.4" y="778.8" width="1.2" height="1.2" fill="#dfeaff"/><rect x="1287.8" y="778.8" width="1.2" height="1.2" fill="#dfeaff"/><rect x="1283.0" y="781.4" width="1.2" height="1.2" fill="#dfeaff"/><rect x="1285.4" y="781.4" width="1.2" height="1.2" fill="#dfeaff"/><rect x="1287.8" y="781.4" width="1.2" height="1.2" fill="#dfeaff"/><rect x="1283.0" y="784.0" width="1.2" height="1.2" fill="#dfeaff"/><rect x="1285.4" y="784.0" width="1.2" height="1.2" fill="#dfeaff"/><rect x="1287.8" y="784.0" width="1.2" height="1.2" fill="#dfeaff"/></g>
<circle cx="1281.3" cy="785" r="11.3" fill="#101010"/><circle cx="1281.3" cy="785" r="9.6" fill="#101010" stroke="#e0303c" stroke-width="1.4"/><clipPath id="f1"><circle cx="1281.3" cy="785" r="7.7"/></clipPath><g clip-path="url(#f1)"><rect x="1273.3" y="777" width="16" height="16" fill="#e8504f"/><rect x="1273.3" y="780.2" width="16" height="3.2" fill="#fff"/><rect x="1273.3" y="786.6" width="16" height="3.2" fill="#fff"/><rect x="1273.3" y="777" width="9" height="9.6" fill="#2f80ed"/><rect x="1274.7" y="778.8" width="1.2" height="1.2" fill="#dfeaff"/><rect x="1277.1000000000001" y="778.8" width="1.2" height="1.2" fill="#dfeaff"/><rect x="1279.5" y="778.8" width="1.2" height="1.2" fill="#dfeaff"/><rect x="1274.7" y="781.4" width="1.2" height="1.2" fill="#dfeaff"/><rect x="1277.1000000000001" y="781.4" width="1.2" height="1.2" fill="#dfeaff"/><rect x="1279.5" y="781.4" width="1.2" height="1.2" fill="#dfeaff"/><rect x="1274.7" y="784.0" width="1.2" height="1.2" fill="#dfeaff"/><rect x="1277.1000000000001" y="784.0" width="1.2" height="1.2" fill="#dfeaff"/><rect x="1279.5" y="784.0" width="1.2" height="1.2" fill="#dfeaff"/></g>
<circle cx="1281.4" cy="760.6" r="11.3" fill="#101010"/>
<circle cx="1281.4" cy="760.6" r="9.8" fill="#101010" stroke="#9b3fc0" stroke-width="1.5"/>
<path d="M1284.6 755L1277.5 761.6H1281.2L1278.6 766.6L1285.7 759.7H1281.9Z" fill="#a545c9"/>
</svg>

<div class="lg" style="top:2.1px"><span class="t" style="left:4px;letter-spacing:-0.156px">US Crude Oil SPOT · 1D · CFI</span><span class="t" style="left:163.5px">O<b class="g">65.387</b></span><span class="t" style="left:214.6px">H<b class="g">67.936</b></span><span class="t" style="left:265.4px">L<b class="g">64.966</b></span><span class="t" style="left:314.4px">C<b class="g">67.324</b></span><span class="t g" style="left:365.5px;letter-spacing:-0.1px">+1.757 (+2.68%)</span></div>
<div class="lg" style="top:19.8px"><span class="t" style="left:4px;word-spacing:0.95px">Vol · Ticks</span><span class="t g" style="left:65.8px">60.69 K</span></div>
<div class="lg" style="top:36.5px"><span class="t" style="left:4px;word-spacing:0.4px">EMA (200, close)</span><span class="t" style="left:99.8px;color:#3a6ae8">63.089</span></div>
<div class="lg" style="top:53.5px"><span class="t" style="left:4px;word-spacing:2.1px">Alligator (13, 8, 5, 8, 5, 3)</span><span class="t" style="left:153.8px;color:#3a6ae8">64.081</span><span class="t" style="left:196.7px;color:#e0245e">64.998</span><span class="t" style="left:240.2px;color:#66bb6a">65.579</span></div>

</body></html>
